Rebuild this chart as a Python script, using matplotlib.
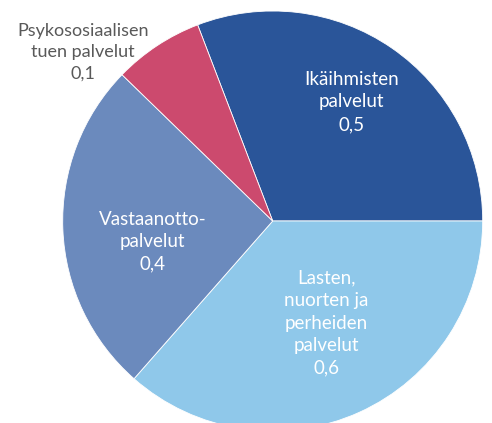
import numpy as np
import matplotlib
matplotlib.use("Agg")
import matplotlib.pyplot as plt

categories = ["Ikäihmisten\npalvelut", "Lasten,\nnuorten ja\nperheiden\npalvelut",
              "Vastaanotto-\npalvelut", "Psykososiaalisen\ntuen palvelut"]
values = [0.49, 0.58, 0.41, 0.11]
colors = ["#2A5599", "#8FC8EA", "#6B8ABD", "#CC4A6E"]

# label placement style: (radial distance, angle offset deg, text colour, size)
label_style = [(0.68, 1.0, "white", 13.5), (0.55, 3.5, "white", 13.5),
               (0.58, 7.5, "white", 13.5), (1.21, 15.0, "#595959", 13.0)]

plt.rcParams['font.family'] = ['Lato', 'DejaVu Sans']

W, H = 492, 423
fig = plt.figure(figsize=(W / 100, H / 100), dpi=100)
ax = fig.add_axes([0, 0, 1, 1])
cx, cy, R = 272.7, 221.0, 210.0

total = sum(values)
start = 360.0 * values[0] / total
wedges, _ = ax.pie(values, colors=colors, startangle=start, counterclock=False,
                   wedgeprops=dict(edgecolor="white", linewidth=0.6),
                   radius=1.0, frame=True)
ax.set_xlim(-cx / R, (W - cx) / R)
ax.set_ylim((cy - H) / R, cy / R)
ax.set_aspect("auto")
ax.axis("off")

for w, cat, v, (dist, off, col, fs) in zip(wedges, categories, values, label_style):
    mid = np.deg2rad((w.theta1 + w.theta2) / 2 + off)
    x, y = dist * np.cos(mid), dist * np.sin(mid)
    txt = cat + "\n" + f"{v:.1f}".replace(".", ",")
    ax.text(x, y, txt, ha="center", va="center", color=col, fontsize=fs,
            linespacing=1.4)

fig.savefig("out.png", dpi=100)
